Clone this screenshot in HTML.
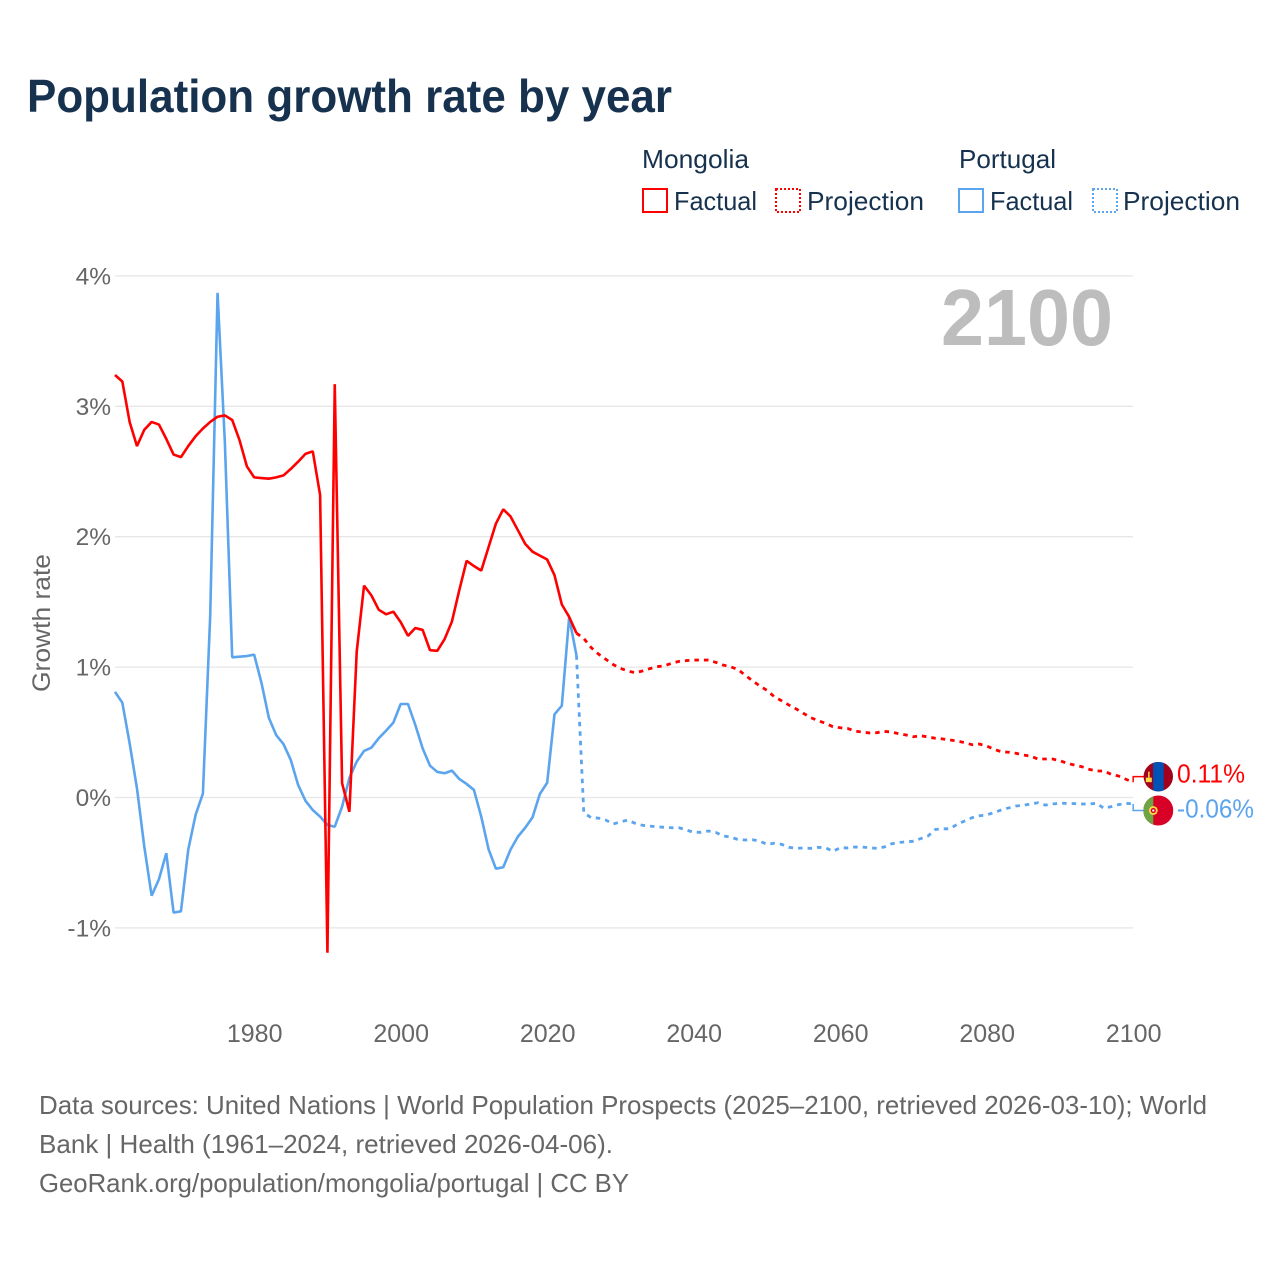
<!DOCTYPE html>
<html lang="en">
<head>
<meta charset="utf-8">
<title>Population growth rate by year</title>
<style>
html,body{margin:0;padding:0;background:#fff;}
svg{display:block;font-family:"Liberation Sans",sans-serif;}
</style>
</head>
<body>
<svg id="chart" xmlns="http://www.w3.org/2000/svg" width="1280" height="1280" viewBox="0 0 1280 1280">
  <rect x="0" y="0" width="1280" height="1280" fill="#ffffff"/>
  <text x="27" y="112" font-size="46" font-weight="700" fill="#17324f" textLength="645" lengthAdjust="spacingAndGlyphs">Population growth rate by year</text>

  <g font-size="26" fill="#17324f">
    <text x="642" y="168" textLength="107" lengthAdjust="spacingAndGlyphs">Mongolia</text>
    <text x="959" y="168" textLength="97" lengthAdjust="spacingAndGlyphs">Portugal</text>
    <rect x="643" y="189" width="24" height="23" fill="none" stroke="#ff0000" stroke-width="2"/>
    <text x="674" y="210" textLength="83" lengthAdjust="spacingAndGlyphs">Factual</text>
    <rect x="776" y="189" width="24" height="23" fill="none" stroke="#ff0000" stroke-width="2" stroke-dasharray="2 2"/>
    <text x="807" y="210" textLength="117" lengthAdjust="spacingAndGlyphs">Projection</text>
    <rect x="959" y="189" width="24" height="23" fill="none" stroke="#5ba4ee" stroke-width="2"/>
    <text x="990" y="210" textLength="83" lengthAdjust="spacingAndGlyphs">Factual</text>
    <rect x="1093" y="189" width="24" height="23" fill="none" stroke="#5ba4ee" stroke-width="2" stroke-dasharray="2 2"/>
    <text x="1123" y="210" textLength="117" lengthAdjust="spacingAndGlyphs">Projection</text>
  </g>

  <g id="grid"></g>
  <g id="yticks" font-size="24.5" fill="#666666" text-anchor="end"></g>
  <g id="xticks" font-size="25" fill="#666666" text-anchor="middle"></g>
  <text transform="translate(50,623) rotate(-90)" font-size="25" fill="#666666" text-anchor="middle" textLength="138" lengthAdjust="spacingAndGlyphs">Growth rate</text>
  <text x="941" y="345" font-size="80" font-weight="700" fill="#bdbdbd" textLength="172" lengthAdjust="spacingAndGlyphs">2100</text>

  <g id="series" fill="none"></g>
  <g id="endlabels" font-size="26"></g>

  <g font-size="26" fill="#666666">
    <text x="39" y="1114" textLength="1168" lengthAdjust="spacingAndGlyphs">Data sources: United Nations | World Population Prospects (2025–2100, retrieved 2026-03-10); World</text>
    <text x="39" y="1153" textLength="574" lengthAdjust="spacingAndGlyphs">Bank | Health (1961–2024, retrieved 2026-04-06).</text>
    <text x="39" y="1192" textLength="590" lengthAdjust="spacingAndGlyphs">GeoRank.org/population/mongolia/portugal | CC BY</text>
  </g>
</svg>
<script>
var yTickValues = [4, 3, 2, 1, 0, -1];
var yTickLabels = ["4%", "3%", "2%", "1%", "0%", "-1%"];
var xTickYears = [1980, 2000, 2020, 2040, 2060, 2080, 2100];
var xTickLabels = ["1980", "2000", "2020", "2040", "2060", "2080", "2100"];

var factualStartYear = 1961;
var projectionStartYear = 2024;

var mongoliaFactual = [3.24, 3.19, 2.88, 2.695, 2.82, 2.88, 2.86, 2.75, 2.63, 2.61,
  2.695, 2.77, 2.83, 2.88, 2.92, 2.93, 2.895, 2.74, 2.54, 2.455,
  2.45, 2.445, 2.455, 2.47, 2.52, 2.575, 2.635, 2.655, 2.32, -1.19,
  3.17, 0.11, -0.11, 1.12, 1.625, 1.55, 1.44, 1.405, 1.425, 1.345,
  1.24, 1.30, 1.285, 1.13, 1.125, 1.215, 1.35, 1.59, 1.815, 1.775,
  1.74, 1.92, 2.10, 2.21, 2.155, 2.05, 1.945, 1.885, 1.855, 1.825,
  1.705, 1.48, 1.385, 1.26];

var mongoliaProjection = [1.26, 1.22, 1.15, 1.10, 1.06, 1.02, 0.99, 0.97, 0.957, 0.97,
  0.988, 1.003, 1.01, 1.03, 1.044, 1.05, 1.054, 1.054, 1.054, 1.037,
  1.016, 1.003, 0.983, 0.94, 0.896, 0.857, 0.822, 0.773, 0.742, 0.709,
  0.679, 0.645, 0.612, 0.589, 0.569, 0.543, 0.535, 0.53, 0.51, 0.502,
  0.495, 0.497, 0.507, 0.502, 0.489, 0.479, 0.466, 0.474, 0.464, 0.454,
  0.449, 0.441, 0.433, 0.42, 0.405, 0.41, 0.395, 0.37, 0.351, 0.347,
  0.339, 0.326, 0.318, 0.295, 0.295, 0.295, 0.282, 0.262, 0.249, 0.236,
  0.216, 0.203, 0.203, 0.178, 0.165, 0.14, 0.117];

var portugalFactual = [0.81, 0.727, 0.415, 0.07, -0.377, -0.753, -0.627, -0.427, -0.883, -0.873,
  -0.40, -0.134, 0.03, 1.40, 3.87, 2.72, 1.075, 1.08, 1.085, 1.095,
  0.878, 0.612, 0.479, 0.41, 0.287, 0.096, -0.025, -0.096, -0.147, -0.211,
  -0.224, -0.07, 0.15, 0.275, 0.357, 0.382, 0.454, 0.512, 0.574, 0.717,
  0.717, 0.556, 0.377, 0.244, 0.196, 0.186, 0.206, 0.142, 0.104, 0.058,
  -0.147, -0.397, -0.546, -0.535, -0.40, -0.30, -0.232, -0.152, 0.027, 0.113,
  0.638, 0.704, 1.382, 1.09];

var portugalProjection = [1.09, -0.116, -0.155, -0.158, -0.173, -0.203, -0.188, -0.173, -0.198, -0.213,
  -0.219, -0.224, -0.229, -0.232, -0.232, -0.249, -0.267, -0.267, -0.257, -0.267,
  -0.295, -0.303, -0.321, -0.326, -0.324, -0.334, -0.359, -0.351, -0.359, -0.382,
  -0.39, -0.387, -0.39, -0.382, -0.385, -0.413, -0.385, -0.387, -0.38, -0.38,
  -0.385, -0.39, -0.38, -0.355, -0.345, -0.34, -0.335, -0.315, -0.295, -0.245,
  -0.24, -0.24, -0.205, -0.18, -0.155, -0.14, -0.134, -0.115, -0.095, -0.08,
  -0.065, -0.06, -0.05, -0.04, -0.058, -0.05, -0.044, -0.045, -0.047, -0.05,
  -0.05, -0.044, -0.083, -0.07, -0.055, -0.044, -0.05];

var endLabelTexts = ["0.11%", "-0.06%"];

var SVG_NS = "http://www.w3.org/2000/svg";
var RED = "#ff0000";
var BLUE = "#5ba4ee";

function xScale(year) { return 115 + (year - 1961) * 7.325; }
function yScale(value) { return 797.5 - value * 130.4; }
function make(tag, attrs, parent) {
  var el = document.createElementNS(SVG_NS, tag);
  for (var k in attrs) { el.setAttribute(k, attrs[k]); }
  parent.appendChild(el);
  return el;
}
function pathFor(values, startYear) {
  return values.map(function (v, i) {
    return (i ? "L" : "M") + xScale(startYear + i).toFixed(2) + " " + yScale(v).toFixed(2);
  }).join(" ");
}

var gridLayer = document.getElementById("grid");
var yLayer = document.getElementById("yticks");
yTickValues.forEach(function (v, i) {
  var line = make("line", { x1: 115, x2: 1133, y1: yScale(v), y2: yScale(v), stroke: "#e6e6e6", "stroke-width": 1.3 }, gridLayer);
  
  
  var label = make("text", { x: 111, y: yScale(v) + 8.5 }, yLayer);
  
  
  label.textContent = yTickLabels[i];
});

var xLayer = document.getElementById("xticks");
xTickYears.forEach(function (year, i) {
  var label = make("text", { x: xScale(year) + 0.5, y: 1042 }, xLayer);
  
  
  label.textContent = xTickLabels[i];
});

var seriesLayer = document.getElementById("series");

var ptFact = make("path", { d: pathFor(portugalFactual, factualStartYear), stroke: BLUE, "stroke-width": 2.6, "stroke-linejoin": "bevel" }, seriesLayer);



var ptProj = make("path", { d: pathFor(portugalProjection, projectionStartYear), stroke: BLUE, "stroke-width": 2.8, "stroke-dasharray": "4.5 5", "stroke-linejoin": "bevel" }, seriesLayer);



var mnFact = make("path", { d: pathFor(mongoliaFactual, factualStartYear), stroke: RED, "stroke-width": 2.6, "stroke-linejoin": "bevel" }, seriesLayer);



var mnProj = make("path", { d: pathFor(mongoliaProjection, projectionStartYear), stroke: RED, "stroke-width": 2.8, "stroke-dasharray": "4.5 5", "stroke-linejoin": "bevel" }, seriesLayer);



/* end-of-line connectors, flags and value labels follow the final projected values */
var endLayer = document.getElementById("endlabels");
var lastYear = projectionStartYear + mongoliaProjection.length - 1;
var endX = xScale(lastYear);
var mnEndY = yScale(mongoliaProjection[mongoliaProjection.length - 1]);
var ptEndY = yScale(portugalProjection[portugalProjection.length - 1]);
var mnFlagY = mnEndY - 5.6;
var ptFlagY = ptEndY + 6.5;
var flagX = 1158.3;

var mnConn = make("path", { d: "M" + endX + " " + mnEndY + " V" + mnFlagY + " H" + (flagX - 14), fill: "none", stroke: RED, "stroke-width": 1.5 }, endLayer);



var ptConn = make("path", { d: "M" + endX + " " + ptEndY + " V" + ptFlagY + " H" + (flagX - 14), fill: "none", stroke: BLUE, "stroke-width": 1.5 }, endLayer);



var defs = make("defs", {}, endLayer);
var clipMn = make("clipPath", { id: "clip-mn" }, defs);
make("circle", { cx: flagX, cy: mnFlagY, r: 14.7 }, clipMn);
var clipPt = make("clipPath", { id: "clip-pt" }, defs);
make("circle", { cx: flagX, cy: ptFlagY, r: 15 }, clipPt);

var mnFlag = make("g", { "clip-path": "url(#clip-mn)" }, endLayer);


make("rect", { x: flagX - 15, y: mnFlagY - 15, width: 30, height: 30, fill: "#a2001d" }, mnFlag);
make("rect", { x: flagX - 5.2, y: mnFlagY - 15, width: 10.6, height: 30, fill: "#0052b4" }, mnFlag);
make("rect", { x: flagX - 12.5, y: mnFlagY + 1, width: 6, height: 4.5, fill: "#ffda44" }, mnFlag);
make("rect", { x: flagX - 10.2, y: mnFlagY - 5, width: 1.5, height: 6, fill: "#ffda44" }, mnFlag);

var ptFlag = make("g", { "clip-path": "url(#clip-pt)" }, endLayer);


make("rect", { x: flagX - 15, y: ptFlagY - 15, width: 30, height: 30, fill: "#d80027" }, ptFlag);
make("rect", { x: flagX - 15, y: ptFlagY - 15, width: 10, height: 30, fill: "#6da544" }, ptFlag);
make("circle", { cx: flagX - 5, cy: ptFlagY, r: 4.4, fill: "#ffda44" }, ptFlag);
make("circle", { cx: flagX - 5, cy: ptFlagY, r: 2.6, fill: "#d80027" }, ptFlag);
make("circle", { cx: flagX - 5, cy: ptFlagY, r: 1.2, fill: "#f0f0f0" }, ptFlag);

var mnText = make("text", { x: 1177, y: mnFlagY + 6, fill: RED, textLength: 68, lengthAdjust: "spacingAndGlyphs" }, endLayer);


mnText.textContent = endLabelTexts[0];

var ptText = make("text", { x: 1177, y: ptFlagY + 7, fill: BLUE, textLength: 77, lengthAdjust: "spacingAndGlyphs" }, endLayer);


ptText.textContent = endLabelTexts[1];
</script>
</body>
</html>
